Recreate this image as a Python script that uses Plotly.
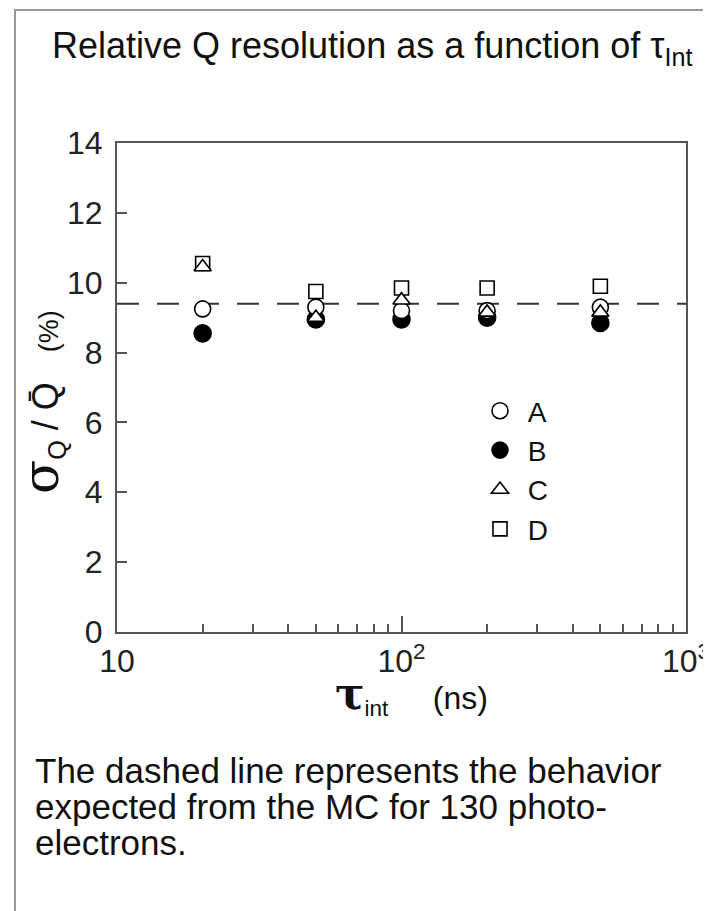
import plotly.graph_objects as go

# ---- data ----
tau_ns = [20, 50, 100, 200, 500]
res_A = [9.25, 9.30, 9.20, 9.20, 9.30]
res_B = [8.55, 8.95, 8.95, 9.00, 8.85]
res_C = [10.45, 9.00, 9.50, 9.15, 9.15]
res_D = [10.55, 9.75, 9.85, 9.85, 9.90]
mc_expected = 9.4
x_range = [10, 1000]
y_ticks = [0, 2, 4, 6, 8, 10, 12, 14]
x_tickvals = [10, 100, 1000]
x_ticktext = ["10", "10<sup>2</sup>", "10<sup>3</sup>"]

FONT = "Liberation Sans, Arial, sans-serif"
AX = "#555555"
NB = "\u00a0"

fig = go.Figure()

# MC expectation (dashed)
fig.add_trace(go.Scatter(
    x=x_range, y=[mc_expected, mc_expected], mode="lines",
    line=dict(color="#333333", width=2, dash="22px,18px"),
    showlegend=False, hoverinfo="skip"))

series = [
    # name, y, symbol, fill, size, legend rank (list order = drawing order)
    ("B", res_B, "circle", "black", 17, 2),
    ("A", res_A, "circle", "white", 16, 1),
    ("D", res_D, "square", "white", 14, 4),
    ("C", res_C, "triangle-up", "white", 15, 3),
]
for name, ys, sym, fill, size, rank in series:
    fig.add_trace(go.Scatter(
        x=tau_ns, y=ys, mode="markers", name=NB + name,
        legendgroup=name, legendrank=rank,
        marker=dict(symbol=sym, color=fill, size=size,
                    line=dict(color="black", width=1.6))))

# page body has an 8px margin: figure placed at (8, 8) on screen
OFF = 8
W, H = 711 - OFF, 911 - OFF
PL, PT, PR, PB = 117, 143, 686, 632          # plot area in screen pixels
L, T = PL - OFF, PT - OFF
R, B = W - (PR - OFF), H - (PB - OFF)
pw, ph = PR - PL, PB - PT

def px(x):
    return (x - PL) / pw

def py(y):
    return (PB - y) / ph

fig.update_layout(
    width=W, height=H,
    margin=dict(l=L, r=R, t=T, b=B, autoexpand=False),
    paper_bgcolor="white", plot_bgcolor="white",
    font=dict(family=FONT, color="#111111", size=24),
    showlegend=True,
    legend=dict(x=px(480), y=py(386), xanchor="left", yanchor="top",
                traceorder="grouped", tracegroupgap=0,
                font=dict(size=28, family=FONT), bgcolor="rgba(0,0,0,0)",
                itemsizing="trace"),
    xaxis=dict(type="log", range=[1, 3], tickvals=x_tickvals, ticktext=x_ticktext,
               ticks="inside", ticklen=16, tickwidth=1.5, tickcolor=AX,
               minor=dict(ticks="inside", ticklen=8, tickwidth=1.5, tickcolor=AX,
                          dtick="D1", showgrid=False),
               showline=True, linecolor=AX, linewidth=2, mirror=True,
               showgrid=False, zeroline=False,
               tickfont=dict(size=32, family=FONT, color="#222"),
               ticklabelstandoff=0),
    yaxis=dict(range=[0, 14], tickvals=y_ticks,
               ticks="inside", ticklen=10, tickwidth=1.5, tickcolor=AX,
               showline=True, linecolor=AX, linewidth=2, mirror=True,
               showgrid=False, zeroline=False,
               tickfont=dict(size=32, family=FONT, color="#222"),
               ticklabelstandoff=6),
)

# x axis title
fig.add_annotation(
    text='<span style="font-size:44px;font-family:DejaVu Serif"><b>τ</b></span>'
         '<sub>int</sub>' + NB * 5 + '(ns)',
    xref="paper", yref="paper", x=px(333), y=py(694),
    xanchor="left", yanchor="middle", showarrow=False,
    font=dict(size=32, family=FONT, color="#111"))

# y axis title
fig.add_annotation(
    text='<span style="font-size:50px;font-family:DejaVu Serif">σ</span>'
         '<sub>Q</sub>' + NB + '/' + NB + 'Q\u0304' + NB * 3 +
         '<span style="font-size:27px">(%)</span>',
    xref="paper", yref="paper", x=px(41), y=py(402), textangle=-90,
    xanchor="center", yanchor="middle", showarrow=False,
    font=dict(size=36, family=FONT, color="#111"))

# page title
fig.add_annotation(text="Relative Q resolution as a function of τ<sub>Int</sub>",
                   xref="paper", yref="paper", x=px(50), y=py(48),
                   xanchor="left", yanchor="middle", showarrow=False,
                   font=dict(size=36, family=FONT, color="#111"))

# caption lines
caption = ["The dashed line represents the behavior",
           "expected from the MC for 130 photo-",
           "electrons."]
for i, line in enumerate(caption):
    fig.add_annotation(text=line, xref="paper", yref="paper",
                       x=px(33), y=py(770 + 36 * i), xanchor="left", yanchor="middle",
                       showarrow=False, font=dict(size=35, family=FONT, color="#111"))

# outer frame (left and top edges)
fig.add_shape(type="rect", xref="paper", yref="paper",
              x0=px(15), x1=px(760), y0=py(960), y1=py(10),
              line=dict(color="#999999", width=2), layer="below")

fig.write_html("out.html")
